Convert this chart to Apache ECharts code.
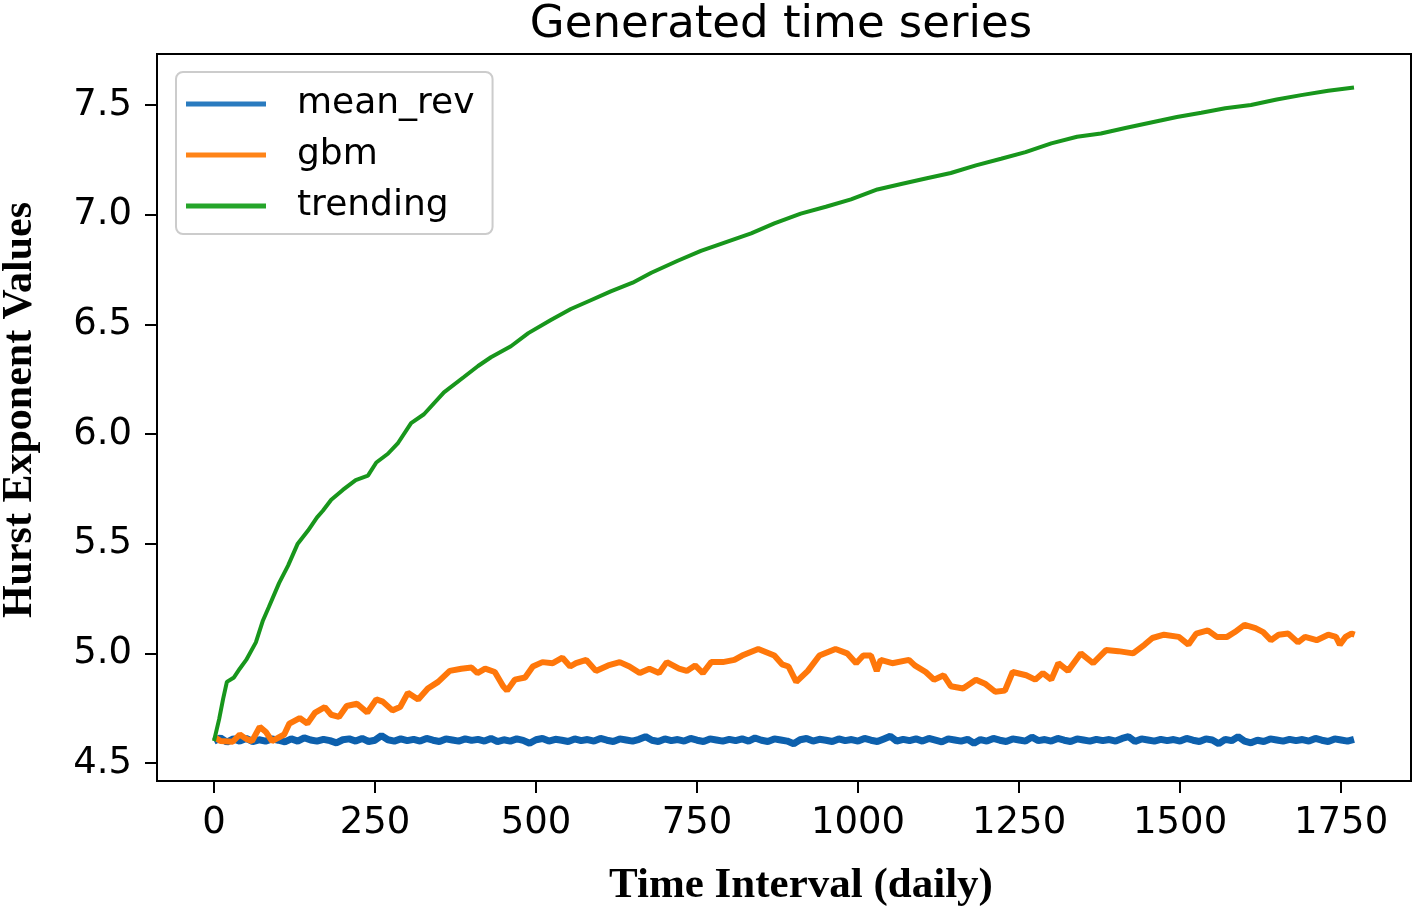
<!DOCTYPE html>
<html>
<head>
<meta charset="utf-8">
<script src="https://cdn.jsdelivr.net/npm/echarts@6/dist/echarts.min.js"></script>
<style>
html,body{margin:0;padding:0;background:#fff;}
#chart{width:1416px;height:912px;}
</style>
</head>
<body>
<div id="chart"></div>
<script>
// ---- data ----
var xTicks = [0, 250, 500, 750, 1000, 1250, 1500, 1750];
var yTicks = [4.5, 5.0, 5.5, 6.0, 6.5, 7.0, 7.5];
var seriesNames = ['mean_rev', 'gbm', 'trending'];

// mean_rev: one value every 10 days, starting at day 0
var meanRevStep = 10;
var meanRevY = [
4.600,4.615,4.595,4.610,4.600,4.612,4.598,4.606,4.600,4.610,
4.604,4.596,4.610,4.600,4.615,4.605,4.600,4.608,4.602,4.592,
4.606,4.610,4.600,4.612,4.598,4.604,4.625,4.606,4.600,4.610,
4.602,4.608,4.600,4.612,4.604,4.598,4.610,4.605,4.600,4.610,
4.603,4.608,4.600,4.612,4.598,4.606,4.600,4.610,4.603,4.590,
4.606,4.612,4.600,4.608,4.604,4.598,4.610,4.602,4.607,4.600,
4.612,4.604,4.598,4.610,4.605,4.600,4.608,4.620,4.604,4.598,
4.610,4.602,4.607,4.600,4.612,4.604,4.598,4.610,4.605,4.600,
4.608,4.602,4.610,4.600,4.614,4.604,4.598,4.610,4.605,4.600,
4.588,4.606,4.612,4.600,4.608,4.604,4.598,4.610,4.602,4.607,
4.600,4.612,4.604,4.598,4.610,4.622,4.600,4.608,4.602,4.610,
4.600,4.612,4.604,4.596,4.610,4.605,4.600,4.608,4.590,4.607,
4.600,4.612,4.604,4.598,4.610,4.605,4.600,4.618,4.602,4.607,
4.600,4.612,4.604,4.598,4.610,4.605,4.600,4.608,4.602,4.607,
4.600,4.612,4.620,4.598,4.610,4.605,4.600,4.608,4.602,4.607,
4.600,4.612,4.604,4.598,4.610,4.605,4.588,4.608,4.602,4.620,
4.600,4.592,4.604,4.598,4.610,4.605,4.600,4.608,4.602,4.607,
4.600,4.612,4.604,4.598,4.610,4.605,4.600,4.608
];

var gbmX = [0,10,29,40,50,59,71,81,90,109,117,133,145,157,172,182,194,206,222,238,252,262,277,289,301,317,332,348,366,384,400,409,421,436,449,455,467,483,495,510,526,541,553,562,578,593,612,630,645,661,676,691,703,722,734,747,759,772,790,808,820,845,870,882,892,904,922,940,965,983,997,1008,1020,1029,1035,1053,1079,1088,1105,1118,1133,1144,1163,1183,1198,1213,1228,1240,1261,1275,1287,1300,1311,1326,1346,1365,1385,1404,1427,1445,1457,1475,1498,1513,1525,1543,1557,1573,1585,1600,1617,1629,1641,1653,1668,1683,1694,1712,1730,1742,1748,1757,1766,1771];
var gbmY = [4.62,4.60,4.597,4.63,4.61,4.60,4.665,4.64,4.60,4.63,4.68,4.705,4.68,4.73,4.755,4.72,4.71,4.76,4.77,4.73,4.79,4.78,4.74,4.755,4.82,4.79,4.84,4.87,4.92,4.93,4.935,4.91,4.93,4.915,4.85,4.83,4.88,4.89,4.94,4.96,4.955,4.98,4.94,4.955,4.97,4.92,4.945,4.96,4.94,4.91,4.93,4.91,4.96,4.93,4.92,4.945,4.91,4.96,4.96,4.97,4.99,5.02,4.99,4.95,4.94,4.87,4.92,4.99,5.02,5.00,4.955,4.99,4.99,4.92,4.97,4.955,4.97,4.945,4.915,4.88,4.90,4.85,4.84,4.88,4.86,4.825,4.83,4.915,4.90,4.88,4.91,4.88,4.955,4.92,5.00,4.955,5.015,5.01,5.00,5.04,5.07,5.085,5.075,5.04,5.09,5.105,5.075,5.075,5.097,5.13,5.115,5.097,5.06,5.085,5.09,5.05,5.075,5.06,5.085,5.075,5.04,5.075,5.09,5.085];

var trendX = [0,8,14,20,31,40,50,65,76,85,101,115,130,146,160,169,182,200,220,239,252,270,286,306,326,357,388,410,430,461,488,523,554,585,616,650,679,720,756,795,834,870,911,950,989,1030,1067,1105,1144,1183,1222,1260,1300,1340,1377,1415,1455,1495,1533,1570,1610,1650,1688,1730,1770];
var trendY = [4.60,4.70,4.79,4.87,4.89,4.93,4.97,5.05,5.15,5.21,5.32,5.40,5.50,5.56,5.62,5.65,5.70,5.745,5.79,5.81,5.87,5.91,5.96,6.05,6.09,6.19,6.26,6.31,6.35,6.40,6.46,6.52,6.57,6.61,6.65,6.69,6.735,6.79,6.835,6.875,6.915,6.96,7.005,7.036,7.07,7.115,7.14,7.165,7.19,7.225,7.255,7.285,7.325,7.355,7.37,7.395,7.42,7.445,7.465,7.485,7.50,7.525,7.545,7.565,7.58];

// ---- build series data ----
function zip(xs, ys){ var out=[]; for(var i=0;i<xs.length;i++){ out.push([xs[i], ys[i]]); } return out; }
var meanRevData = meanRevY.map(function(v,i){ return [i*meanRevStep, v]; });
var gbmData = zip(gbmX, gbmY);
var trendData = zip(trendX, trendY);

var colors = ['#0d60ad', '#ff770a', '#18961c'];
var legendColors = ['#2a7bbf', '#ff8418', '#25a52a'];
var sansFont = 'DejaVu Sans';

var chart = echarts.init(document.getElementById('chart'), null, {renderer:'canvas'});
chart.setOption({
  animation: false,
  backgroundColor: '#ffffff',
  color: colors,
  grid: {
    left: 157, right: 5, top: 54, bottom: 131,
    show: true, borderColor: '#000000', borderWidth: 2, backgroundColor: 'transparent'
  },
  xAxis: {
    type: 'value',
    min: -88.5, max: 1858.5,
    axisLine: {show: false, onZero: false},
    splitLine: {show: false},
    axisTick: {show: true, length: 12, inside: false, customValues: xTicks, lineStyle: {color:'#000', width: 2}},
    axisLabel: {show: true, customValues: xTicks, margin: 24, color: '#000', fontSize: 37, fontFamily: sansFont,
      formatter: function(v){ return String(Math.round(v)); }}
  },
  yAxis: {
    type: 'value',
    min: 4.418, max: 7.7325,
    axisLine: {show: false, onZero: false},
    splitLine: {show: false},
    axisTick: {show: true, length: 12, inside: false, customValues: yTicks, lineStyle: {color:'#000', width: 2}},
    axisLabel: {show: true, customValues: yTicks, margin: 25, color: '#000', fontSize: 37, fontFamily: sansFont,
      formatter: function(v){ return Number(v).toFixed(1); }}
  },
  legend: {
    orient: 'vertical',
    left: 176, top: 72,
    padding: [12, 18, 8, 10],
    itemGap: 11,
    itemWidth: 80, itemHeight: 5,
    icon: 'rect',
    backgroundColor: 'rgba(255,255,255,0.85)',
    borderColor: '#cccccc', borderWidth: 2, borderRadius: 7,
    data: [
      {name: seriesNames[0], itemStyle: {color: legendColors[0]}},
      {name: seriesNames[1], itemStyle: {color: legendColors[1]}},
      {name: seriesNames[2], itemStyle: {color: legendColors[2]}}
    ],
    selectedMode: false,
    textStyle: {fontSize: 36, fontFamily: sansFont, color: '#000', lineHeight: 40, padding: [0,0,0,26]}
  },
  graphic: [
    {type:'text', z: 100, style:{text:'Generated time series', x: 781, y: 25, textAlign:'center', textVerticalAlign:'middle', font: '45px "DejaVu Sans"', fill:'#000'}},
    {type:'text', z: 100, style:{text:'Time Interval (daily)', x: 801, y: 886, textAlign:'center', textVerticalAlign:'middle', font: 'bold 43px "Liberation Serif"', fill:'#000'}},
    {type:'text', z: 100, x: 20, y: 410, rotation: Math.PI/2, style:{text:'Hurst Exponent Values', x: 0, y: 0, textAlign:'center', textVerticalAlign:'middle', font: 'bold 42px "Liberation Serif"', fill:'#000'}}
  ],
  series: [
    {name: seriesNames[0], type: 'line', data: meanRevData, showSymbol: false, lineStyle: {width: 7, color: colors[0]}, itemStyle:{color: legendColors[0]}, z: 2},
    {name: seriesNames[1], type: 'line', data: gbmData, showSymbol: false, lineStyle: {width: 6, color: colors[1]}, itemStyle:{color: legendColors[1]}, z: 3},
    {name: seriesNames[2], type: 'line', data: trendData, showSymbol: false, lineStyle: {width: 4, color: colors[2]}, itemStyle:{color: legendColors[2]}, z: 4}
  ]
});
</script>
</body>
</html>
